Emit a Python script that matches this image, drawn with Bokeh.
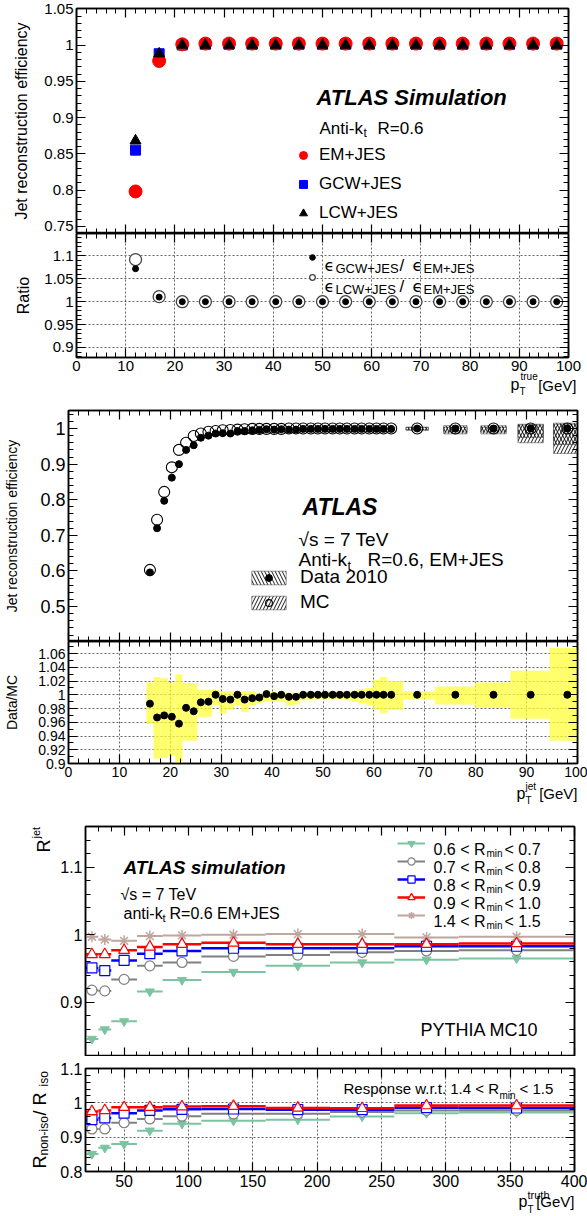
import math
from bokeh.plotting import figure
from bokeh.layouts import column
from bokeh.core.properties import value
from bokeh.models import (Range1d, LinearAxis, SingleIntervalTicker, CustomJSTickFormatter,
                          CustomLabelingPolicy, Label, Legend, LegendItem, Plot)
from bokeh.embed import file_html
from bokeh.resources import INLINE

FONT = "Liberation Sans"
W = 587

# ---------------- Panel 1: efficiency vs pT(true), simulation ----------------
eff_pt = [12.0, 16.8, 21.5, 26.2, 31.0, 35.7, 40.5, 45.2, 50.0, 54.7, 59.5, 64.2, 69.0,
          73.8, 78.5, 83.3, 88.0, 92.8, 97.6]
eff_em = [0.798, 0.978, 1.001, 1.002, 1.002, 1.002, 1.002, 1.002, 1.002, 1.002, 1.002,
          1.002, 1.002, 1.002, 1.002, 1.002, 1.002, 1.002, 1.002]
eff_gcw = [0.855, 0.988, 1.000, 1.001, 1.001, 1.001, 1.001, 1.001, 1.001, 1.001, 1.001,
           1.001, 1.001, 1.001, 1.001, 1.001, 1.001, 1.001, 1.001]
eff_lcw = [0.868, 0.988, 1.000, 1.000, 1.000, 1.000, 1.000, 1.000, 1.000, 1.000, 1.000,
           1.000, 1.000, 1.000, 1.000, 1.000, 1.000, 1.000, 1.000]
ratio_gcw = [1.072, 1.010, 1.000, 1.000, 1.000, 1.000, 1.000, 1.000, 1.000, 1.000, 1.000,
             1.000, 1.000, 1.000, 1.000, 1.000, 1.000, 1.000, 1.000]
ratio_lcw = [1.092, 1.011, 1.000, 1.000, 1.000, 1.000, 1.000, 1.000, 1.000, 1.000, 1.000,
             1.000, 1.000, 1.000, 1.000, 1.000, 1.000, 1.000, 1.000]

# ---------------- Panel 2: efficiency vs pT(jet), data 2010 vs MC ----------------
mid_pt = [16.0, 17.4, 18.8, 20.3, 21.7, 23.1, 24.6, 26.0, 27.5, 28.9, 30.3, 31.8, 33.2,
          34.6, 36.1, 37.5, 38.9, 40.4, 41.8, 43.3, 44.7, 46.1, 47.6, 49.0, 50.4, 51.9,
          53.3, 54.7, 56.2, 57.6, 59.1, 60.5, 61.9, 63.4, 68.5, 76.0, 83.5, 90.8, 98.0]
mid_bin_lo = [15.3, 16.7, 18.1, 19.6, 21.0, 22.4, 23.9, 25.3, 26.8, 28.2, 29.6, 31.1, 32.5,
              33.9, 35.4, 36.8, 38.2, 39.7, 41.1, 42.6, 44.0, 45.4, 46.9, 48.3, 49.7, 51.2,
              52.6, 54.0, 55.5, 56.9, 58.4, 59.8, 61.2, 62.7, 65.8, 72.0, 79.8, 86.8, 94.5]
mid_bin_hi = mid_bin_lo[1:] + [100.0]
mid_data = [0.596, 0.720, 0.797, 0.862, 0.900, 0.940, 0.953, 0.974, 0.980, 0.986, 0.987,
            0.986, 0.993, 0.993, 0.995, 0.996, 0.998, 0.997, 0.998, 0.997, 0.997, 0.999,
            0.999, 0.999, 0.999, 0.999, 0.999, 0.999, 0.999, 0.999, 0.999, 0.999, 0.999,
            0.999, 1.000, 1.000, 1.000, 1.000, 1.000]
mid_mc = [0.603, 0.744, 0.822, 0.891, 0.940, 0.960, 0.979, 0.986, 0.991, 0.993, 0.995,
          0.996, 0.997, 0.998, 0.999, 0.999, 0.999, 0.999, 0.999, 1.000, 1.000, 1.000,
          1.000, 1.000, 1.000, 1.000, 1.000, 1.000, 1.000, 1.000, 1.000, 1.000, 1.000,
          1.000, 1.000, 1.000, 1.000, 1.000, 1.000]
mid_ratio = [0.987, 0.967, 0.970, 0.968, 0.958, 0.981, 0.976, 0.989, 0.990, 1.000, 0.994,
             0.993, 1.000, 0.993, 0.995, 0.996, 1.001, 0.998, 1.000, 0.997, 0.997, 1.000,
             1.000, 1.000, 1.000, 1.000, 1.000, 1.000, 1.000, 1.000, 1.000, 1.000, 1.000,
             1.000, 1.000, 1.000, 1.000, 1.000, 1.000]
mid_band_lo = [0.958, 0.907, 0.908, 0.912, 0.895, 0.933, 0.933, 0.968, 0.968, 0.985, 0.973,
               0.978, 0.985, 0.975, 0.985, 0.988, 0.990, 0.990, 0.990, 0.985, 0.986, 0.992,
               0.992, 0.993, 0.993, 0.993, 0.993, 0.992, 0.990, 0.988, 0.985, 0.978, 0.973,
               0.978, 0.993, 0.986, 0.981, 0.965, 0.933]
mid_band_hi = [1.018, 1.026, 1.024, 1.018, 1.030, 1.017, 1.017, 1.007, 1.007, 1.007, 1.005,
               1.005, 1.005, 1.005, 1.005, 1.003, 1.004, 1.004, 1.004, 1.003, 1.003, 1.004,
               1.004, 1.004, 1.004, 1.005, 1.005, 1.005, 1.006, 1.008, 1.010, 1.022, 1.026,
               1.020, 1.005, 1.012, 1.018, 1.035, 1.068]
# hatched uncertainty boxes in the upper panel (high-pT bins)
hatch_lo_x = [66.3, 73.7, 81.0, 88.3, 95.3]
hatch_hi_x = [70.7, 78.3, 86.0, 93.3, 100.0]
data_unc_lo = [0.996, 0.990, 0.990, 0.975, 0.955]
data_unc_hi = [1.004, 1.008, 1.008, 1.012, 1.015]
mc_unc_lo = [0.995, 0.985, 0.985, 0.960, 0.930]
mc_unc_hi = [1.003, 1.004, 1.004, 1.010, 1.012]

# ---------------- Panel 3: jet response vs pT(truth) for isolation bins ----------------
bot_edges = [20, 30, 40, 60, 80, 110, 160, 210, 260, 310, 400]
bot_lo = bot_edges[:-1]
bot_hi = bot_edges[1:]
bot_pt = [25, 35, 50, 70, 95, 135, 185, 235, 285, 355]
resp_06 = [0.846, 0.860, 0.872, 0.916, 0.933, 0.945, 0.954, 0.959, 0.963, 0.965]
resp_07 = [0.918, 0.917, 0.934, 0.954, 0.959, 0.968, 0.970, 0.974, 0.976, 0.977]
resp_08 = [0.951, 0.947, 0.962, 0.972, 0.976, 0.980, 0.980, 0.980, 0.983, 0.983]
resp_09 = [0.971, 0.971, 0.977, 0.982, 0.986, 0.988, 0.986, 0.986, 0.986, 0.987]
resp_14 = [0.997, 0.993, 0.991, 0.998, 0.999, 1.000, 1.001, 1.001, 0.996, 0.997]
rat_06 = [0.851, 0.869, 0.880, 0.919, 0.939, 0.948, 0.951, 0.960, 0.970, 0.972]
rat_07 = [0.924, 0.924, 0.942, 0.953, 0.961, 0.968, 0.968, 0.973, 0.978, 0.978]
rat_08 = [0.951, 0.956, 0.970, 0.978, 0.981, 0.982, 0.980, 0.980, 0.986, 0.985]
rat_09 = [0.975, 0.978, 0.987, 0.987, 0.989, 0.990, 0.985, 0.984, 0.992, 0.992]

GREEN = "#7cc4a0"
GREY = "#808080"
BLUE = "#0000ff"
RED = "#ff0000"
BROWN = "#bfa69e"

HAS_FRAME_ALIGN = "frame_align" in Plot.properties()


def fmt():
    return CustomJSTickFormatter(code="return Number(tick.toFixed(4)).toString();")


def style_axis(ax, interval, nminor, size):
    ax.ticker = SingleIntervalTicker(interval=interval, num_minor_ticks=nminor)
    ax.formatter = fmt()
    ax.major_tick_in = 9
    ax.major_tick_out = 0
    ax.minor_tick_in = 5
    ax.minor_tick_out = 0
    ax.axis_line_color = "black"
    ax.axis_line_width = 1.5
    ax.major_tick_line_color = "black"
    ax.minor_tick_line_color = "black"
    ax.major_tick_line_width = 1.2
    ax.minor_tick_line_width = 1
    ax.major_label_text_font = FONT
    ax.major_label_text_color = "black"
    if size:
        ax.major_label_text_font_size = f"{size}px"
        ax.major_label_standoff = 3
    else:
        ax.major_label_text_font_size = "0px"
        ax.major_label_standoff = 0
        ax.major_label_policy = CustomLabelingPolicy(
            code="for (const i of Array.from(indices)) { indices.unset(i) } return indices")
    ax.axis_label = None


def panel(height, xr, yr, left, right, top, bottom, xint, xminor, yint, yminor,
          xsize, ysize, grid=False):
    kw = dict(frame_align=False) if HAS_FRAME_ALIGN else {}
    p = figure(width=W, height=height, x_range=Range1d(*xr), y_range=Range1d(*yr),
               output_backend="svg", toolbar_location=None,
               min_border_left=left, min_border_right=right,
               min_border_top=top, min_border_bottom=bottom, **kw)
    p.background_fill_color = "white"
    p.border_fill_color = "white"
    p.outline_line_color = "black"
    p.outline_line_width = 1.5
    style_axis(p.xaxis[0], xint, xminor, xsize)
    style_axis(p.yaxis[0], yint, yminor, ysize)
    ax_top = LinearAxis()
    style_axis(ax_top, xint, xminor, 0)
    p.add_layout(ax_top, "above")
    ax_right = LinearAxis()
    style_axis(ax_right, yint, yminor, 0)
    p.add_layout(ax_right, "right")
    if grid:
        p.xgrid[0].ticker = SingleIntervalTicker(interval=xint, num_minor_ticks=0)
        p.ygrid[0].ticker = SingleIntervalTicker(interval=yint, num_minor_ticks=0)
        for g in (p.xgrid[0], p.ygrid[0]):
            g.grid_line_color = "#666666"
            g.grid_line_dash = "2 2"
            g.grid_line_width = 1
    else:
        p.grid.visible = False
    return p


def ytitle(p, text, size, standoff):
    ax = p.yaxis[0]
    ax.axis_label = text
    ax.axis_label_text_font = FONT
    ax.axis_label_text_font_size = f"{size}px"
    ax.axis_label_text_font_style = "normal"
    ax.axis_label_text_color = "black"
    ax.axis_label_standoff = standoff


FRAMES = {}


def reg(key, p, fl, ft, fw, fh, xr, yr):
    FRAMES[key] = (p, fl, ft, fw, fh, xr[0], xr[1], yr[0], yr[1])


def to_data(key, px, py):
    p, fl, ft, fw, fh, xs, xe, ys, ye = FRAMES[key]
    return xs + (px - fl) * (xe - xs) / fw, ye - (py - ft) * (ye - ys) / fh


def txt(key, px, py, text, size, style="normal", align="left", font=FONT):
    """Text inside the frame (Label annotation)."""
    p = FRAMES[key][0]
    xd, yd = to_data(key, px, py)
    p.add_layout(Label(x=xd, y=yd, text=text, text_font=font, text_font_size=f"{size}px",
                       text_font_style=style, text_align=align,
                       text_baseline="alphabetic", text_color="black"))


def otxt(key, px, py, text, size, style="normal", align="left", angle=0.0, font=FONT):
    """Text outside the frame (text glyph at overlay level)."""
    p = FRAMES[key][0]
    xd, yd = to_data(key, px, py)
    p.text(x=[xd], y=[yd], text=[text], text_font=value(font),
           text_font_size=value(f"{size}px"), text_font_style=style, text_align=align,
           text_baseline="alphabetic", angle=angle, text_color="black", level="overlay")


def legend(p, items, loc, gw, gh, lh, spacing, standoff, size):
    lg = Legend(items=items, location=loc, glyph_width=gw, glyph_height=gh,
                label_height=lh, spacing=spacing, label_standoff=standoff,
                padding=0, margin=0, border_line_color=None, background_fill_alpha=0,
                label_text_font=FONT, label_text_font_size=size,
                label_text_color="black")
    p.add_layout(lg)


ROT = math.pi / 2

# ======================= Figure A (page 0-233) =======================
A_X, A_Y = (0, 100), (0.740, 1.0504)
pa = panel(233, A_X, A_Y, 76, 19, 8, 0, 10, 5, 0.05, 5, 0, 15)
reg("A", pa, 76, 8, 492, 225, A_X, A_Y)
r_gcw = pa.scatter(eff_pt, eff_gcw, marker="square", size=10, color=BLUE)
r_em = pa.scatter(eff_pt, eff_em, marker="circle", size=13, color=RED)
r_lcw = pa.scatter(eff_pt, eff_lcw, marker="triangle", size=11, color="black")
legend(pa, [LegendItem(label="EM+JES", renderers=[r_em]),
            LegendItem(label="GCW+JES", renderers=[r_gcw]),
            LegendItem(label="LCW+JES", renderers=[r_lcw])],
       (217, 10), 20, 20, 20, 9, 6, "17px")
txt("A", 316, 97, "ATLAS Simulation", 22, style="bold italic")
txt("A", 319, 128, "Anti-k", 17)
txt("A", 363, 132, "t", 12)
txt("A", 377, 128, "R=0.6", 17)
ytitle(pa, "Jet reconstruction efficiency", 16, 11)

# ======================= Figure B (page 233-400) =======================
B_X, B_Y = (0, 100), (0.878, 1.149)
pb = panel(167, B_X, B_Y, 76, 19, 0, 43, 10, 5, 0.05, 5, 15, 15, grid=True)
reg("B", pb, 76, 233, 492, 124, B_X, B_Y)
r_lr = pb.scatter(eff_pt, ratio_lcw, marker="circle", size=12, line_color="#444444",
                  fill_color="white", line_width=1.3)
r_gr = pb.scatter(eff_pt, ratio_gcw, marker="circle", size=6, color="black")
legend(pb, [LegendItem(label=" ", renderers=[r_gr]),
            LegendItem(label=" ", renderers=[r_lr])],
       (229, 73), 14, 14, 14, 6, 2, "1px")
EPS = "DejaVu Sans"
for (yb, sub1) in ((265, "GCW+JES"), (286, "LCW+JES")):
    txt("B", 324, yb, "\u03f5", 16, font=EPS)
    txt("B", 335, yb + 3, sub1, 13)
    txt("B", 399, yb, "/", 17)
    txt("B", 412, yb, "\u03f5", 16, font=EPS)
    txt("B", 423, yb + 3, "EM+JES", 13)
ytitle(pb, "Ratio", 16, 9)
otxt("B", 510, 384, "p", 16)
otxt("B", 520, 376, "true", 10)
otxt("B", 519, 391, "T", 10)
otxt("B", 576, 385, "[GeV]", 15, align="right")

# ======================= Figure C (page 400-641) =======================
C_X, C_Y = (0, 100), (0.402, 1.0506)
pc = panel(241, C_X, C_Y, 68, 10, 10, 0, 10, 5, 0.1, 5, 0, 18)
reg("C", pc, 68, 410, 509, 231, C_X, C_Y)
r_hmc = pc.quad(left=hatch_lo_x, right=hatch_hi_x, bottom=mc_unc_lo, top=mc_unc_hi,
                fill_color=None, line_color="#333333", line_alpha=0.7, line_width=0.7,
                hatch_pattern="/", hatch_color="black", hatch_scale=7, hatch_weight=0.9)
r_hdata = pc.quad(left=hatch_lo_x, right=hatch_hi_x, bottom=data_unc_lo, top=data_unc_hi,
                  fill_color=None, line_color="#333333", line_alpha=0.7, line_width=0.7,
                  hatch_pattern="\\", hatch_color="black", hatch_scale=7, hatch_weight=0.9)
r_mc = pc.scatter(mid_pt, mid_mc, marker="circle", size=11, line_color="black",
                  fill_color=None, line_width=1.1)
r_data = pc.scatter(mid_pt, mid_data, marker="circle", size=7, color="black")
legend(pc, [LegendItem(label="Data 2010", renderers=[r_hdata, r_data]),
            LegendItem(label="MC", renderers=[r_hmc, r_mc])],
       (179, 28), 43, 17, 17, 3, 10, "19px")
txt("C", 302, 506, "ATLAS", 23, style="bold italic")
txt("C", 298, 539, "\u221as = 7 TeV", 19)
txt("C", 298, 559, "Anti-k", 19)
txt("C", 347, 565, "t", 13)
txt("C", 367, 559, "R=0.6, EM+JES", 19)
ytitle(pc, "Jet reconstruction efficiency", 14, 17)

# ======================= Figure D (page 641-810) =======================
D_X, D_Y = (0, 100), (0.9, 1.0775)
pd_ = panel(169, D_X, D_Y, 68, 10, 0, 47, 10, 5, 0.02, 2, 14, 14, grid=True)
reg("D", pd_, 68, 641, 509, 122, D_X, D_Y)
pd_.quad(left=mid_bin_lo, right=mid_bin_hi, bottom=mid_band_lo, top=mid_band_hi,
         fill_color="#ffff33", fill_alpha=0.72, line_color=None)
pd_.scatter(mid_pt, mid_ratio, marker="circle", size=7, color="black")
ytitle(pd_, "Data/MC", 14, 15)
otxt("D", 516, 793, "p", 16)
otxt("D", 525, 786, "jet", 10)
otxt("D", 525, 800, "T", 10)
otxt("D", 577, 793, "[GeV]", 15, align="right")

# ======================= Figure E (page 810-1056) =======================
E_X, E_Y = (20, 400), (0.82, 1.16)
pe = panel(246, E_X, E_Y, 85, 13, 16, 0, 50, 5, 0.1, 5, 0, 16)
reg("E", pe, 85, 826, 489, 230, E_X, E_Y)
series_e = [
    (resp_06, GREEN, 2, dict(marker="inverted_triangle", size=9, color=GREEN)),
    (resp_07, GREY, 2, dict(marker="circle", size=10, line_color=GREY, fill_color="white", line_width=1.2)),
    (resp_14, BROWN, 2, dict(marker="asterisk", size=11, line_color=BROWN, line_width=1.5)),
    (resp_08, BLUE, 2.5, dict(marker="square", size=10, line_color=BLUE, fill_color="white", line_width=1.2)),
    (resp_09, RED, 2.5, dict(marker="triangle", size=11, line_color=RED, fill_color="white", line_width=1.2)),
]
leg_r = {}
for vals, col, lw, mk in series_e:
    rs = pe.segment(x0=bot_lo, x1=bot_hi, y0=vals, y1=vals, line_color=col, line_width=lw)
    rm = pe.scatter(bot_pt, vals, **mk)
    leg_r[col] = [rs, rm]
legend(pe, [LegendItem(label=" ", renderers=leg_r[c]) for c in (GREEN, GREY, BLUE, RED, BROWN)],
       (312, 132), 28, 18, 18, 0, 2, "1px")
rows = [("0.6 < R", "< 0.7"), ("0.7 < R", "< 0.8"), ("0.8 < R", "< 0.9"),
        ("0.9 < R", "< 1.0"), ("1.4 < R", "< 1.5")]
for i, (a, b) in enumerate(rows):
    yb = 848.5 + 18 * i
    txt("E", 433, yb, a, 16)
    txt("E", 486, yb + 4, "min", 10)
    txt("E", 504, yb, b, 16)
txt("E", 123, 867, "ATLAS simulation", 19, style="bold italic")
txt("E", 120, 894, "\u221as = 7 TeV", 16)
txt("E", 123, 913, "anti-k", 16)
txt("E", 162, 917, "t", 11)
txt("E", 169, 913, "R=0.6  EM+JES", 16)
txt("E", 420, 1029, "PYTHIA MC10", 18)
otxt("E", 43, 852, "R", 18, angle=ROT)
otxt("E", 35, 838, "jet", 11, angle=ROT)

# ======================= Figure F (page 1056-1216) =======================
F_X, F_Y = (20, 400), (0.8, 1.1)
pf = panel(160, F_X, F_Y, 85, 13, 12, 45, 50, 5, 0.1, 5, 16, 16, grid=True)
reg("F", pf, 85, 1068, 489, 103, F_X, F_Y)
series_f = [
    (rat_06, GREEN, 2, dict(marker="inverted_triangle", size=9, color=GREEN)),
    (rat_07, GREY, 2, dict(marker="circle", size=10, line_color=GREY, fill_color="white", line_width=1.2)),
    (rat_08, BLUE, 2.5, dict(marker="square", size=10, line_color=BLUE, fill_color="white", line_width=1.2)),
    (rat_09, RED, 2.5, dict(marker="triangle", size=11, line_color=RED, fill_color="white", line_width=1.2)),
]
for vals, col, lw, mk in series_f:
    pf.segment(x0=bot_lo, x1=bot_hi, y0=vals, y1=vals, line_color=col, line_width=lw)
    pf.scatter(bot_pt, vals, **mk)
txt("F", 343, 1088, "Response w.r.t. 1.4 < R", 15)
txt("F", 499, 1095, "min", 10)
txt("F", 519, 1088, "< 1.5", 15)
otxt("F", 39, 1168, "R", 18, angle=ROT)
otxt("F", 43, 1155, "non-iso", 12, angle=ROT)
otxt("F", 39, 1115, " / R", 18, angle=ROT)
otxt("F", 43, 1086, "iso", 12, angle=ROT)
otxt("F", 518, 1201, "p", 16)
otxt("F", 527, 1194, "truth", 11)
otxt("F", 527, 1209, "T", 10)
otxt("F", 574, 1201, "[GeV]", 15, align="right")

layout = column(pa, pb, pc, pd_, pe, pf, spacing=0)
open("out.html", "w").write(file_html(layout, INLINE))
